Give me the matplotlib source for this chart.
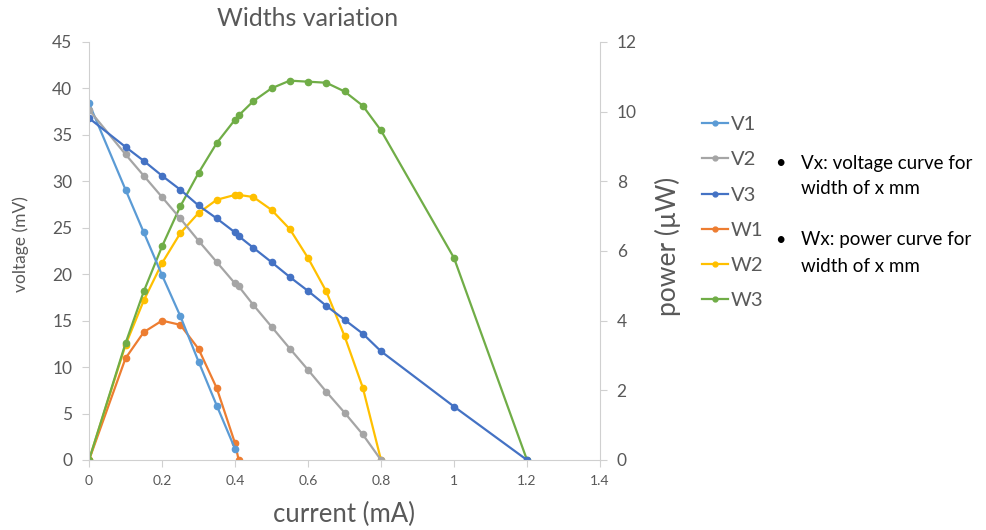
import matplotlib
matplotlib.use("Agg")
import matplotlib.pyplot as plt
from matplotlib.lines import Line2D

plt.rcParams['font.family'] = ['Lato', 'DejaVu Sans']

# ---- data ----
x_v1 = [0, 0.1, 0.15, 0.2, 0.25, 0.3, 0.35, 0.4]
v1 = [38.4, 29.1, 24.5, 19.9, 15.5, 10.6, 5.85, 1.2]

x_v2 = [0, 0.1, 0.15, 0.2, 0.25, 0.3, 0.35, 0.4, 0.41, 0.45, 0.5, 0.55, 0.6, 0.65, 0.7, 0.75, 0.8]
v2 = [37.7, 32.9, 30.6, 28.3, 26.0, 23.6, 21.3, 19.0, 18.7, 16.7, 14.35, 12.0, 9.7, 7.35, 5.1, 2.75, 0]

x_v3 = [0, 0.1, 0.15, 0.2, 0.25, 0.3, 0.35, 0.4, 0.41, 0.45, 0.5, 0.55, 0.6, 0.65, 0.7, 0.75, 0.8, 1.0, 1.2]
v3 = [36.8, 33.7, 32.2, 30.6, 29.1, 27.4, 26.0, 24.5, 24.1, 22.85, 21.3, 19.7, 18.2, 16.6, 15.1, 13.6, 11.7, 5.75, 0]

x_w1 = [0, 0.1, 0.15, 0.2, 0.25, 0.3, 0.35, 0.4, 0.41]
w1 = [0, 2.92, 3.67, 4.0, 3.88, 3.19, 2.06, 0.48, 0]

x_w2 = [0, 0.1, 0.15, 0.2, 0.25, 0.3, 0.35, 0.4, 0.41, 0.45, 0.5, 0.55, 0.6, 0.65, 0.7, 0.75, 0.8]
w2 = [0, 3.3, 4.58, 5.65, 6.51, 7.09, 7.47, 7.61, 7.61, 7.55, 7.18, 6.63, 5.8, 4.84, 3.56, 2.08, 0]

x_w3 = [0, 0.1, 0.15, 0.2, 0.25, 0.3, 0.35, 0.4, 0.41, 0.45, 0.5, 0.55, 0.6, 0.65, 0.7, 0.75, 0.8, 1.0, 1.2]
w3 = [0, 3.35, 4.84, 6.13, 7.28, 8.24, 9.1, 9.77, 9.89, 10.3, 10.67, 10.89, 10.86, 10.83, 10.58, 10.17, 9.46, 5.8, 0]

x_ticks = [0, 0.2, 0.4, 0.6, 0.8, 1, 1.2, 1.4]
x_tick_labels = ['0', '0.2', '0.4', '0.6', '0.8', '1', '1.2', '1.4']

TXT = '#595959'
AX = '#d0d0d0'
C = {'V1': '#5B9BD5', 'V2': '#A5A5A5', 'V3': '#4472C4',
     'W1': '#ED7D31', 'W2': '#FFC000', 'W3': '#70AD47'}

fig = plt.figure(figsize=(9.87, 5.30), dpi=100)
ax = fig.add_axes([0.0902, 0.1321, 0.5177, 0.7887])
ax2 = ax.twinx()

kw = dict(linewidth=1.6, marker='o', markersize=4.5)
# power curves on the right axis
ax2.plot(x_w1, w1, color=C['W1'], **kw)
ax2.plot(x_w2, w2, color=C['W2'], **kw)
ax2.plot(x_w3, w3, color=C['W3'], **kw)
ax.plot(x_v1, v1, color=C['V1'], **kw)
ax.plot(x_v2, v2, color=C['V2'], **kw)
ax.plot(x_v3, v3, color=C['V3'], **kw)
ax.set_zorder(ax2.get_zorder() + 1)
ax.patch.set_visible(False)

ax.set_xlim(0, 1.4)
ax.set_ylim(0, 45)
ax2.set_ylim(0, 12)
ax.set_xticks(x_ticks)
ax.set_xticklabels(x_tick_labels)
ax.set_yticks(range(0, 46, 5))
ax2.set_yticks(range(0, 13, 2))

for a in (ax, ax2):
    for s in a.spines.values():
        s.set_visible(False)
ax.spines['left'].set_visible(True)
ax.spines['left'].set_color(AX)
ax.spines['bottom'].set_visible(True)
ax.spines['bottom'].set_color(AX)
ax2.spines['right'].set_visible(True)
ax2.spines['right'].set_color(AX)

ax.tick_params(axis='y', colors=AX, labelcolor=TXT, labelsize=12.5, length=5, pad=7)
ax.tick_params(axis='x', colors=AX, labelcolor=TXT, labelsize=10, length=5, pad=6)
ax2.tick_params(axis='y', colors=AX, labelcolor=TXT, labelsize=12.5, length=5, pad=7)

fig.text(308 / 987, 1 - 18 / 530, 'Widths variation', color=TXT, fontsize=18,
         ha='center', va='center')
ax.set_xlabel('current (mA)', color=TXT, fontsize=18.5)
ax.xaxis.set_label_coords(0.499, -0.10)
ax.set_ylabel('voltage (mV)', color=TXT, fontsize=12.5)
ax.yaxis.set_label_coords(-0.118, 0.517)
ax2.set_ylabel('power (µW)', color=TXT, fontsize=19)
ax2.yaxis.set_label_coords(1.108, 0.51)

handles = [Line2D([], [], color=C[k], linewidth=1.6, marker='o', markersize=3.5) for k in C]
fig.legend(handles, list(C.keys()), loc='upper left', bbox_to_anchor=(0.701, 0.8),
           frameon=False, fontsize=14.5, handlelength=1.3, handletextpad=0.15,
           labelspacing=0.9, labelcolor=TXT, borderpad=0)

fig.text(780 / 987, 1 - 163 / 530, '•', fontsize=13, color='black', va='center', ha='center')
fig.text(801 / 987, 1 - 163 / 530, 'Vx: voltage curve for', fontsize=13.5, color='black', va='center')
fig.text(801 / 987, 1 - 189 / 530, 'width of x mm', fontsize=13.5, color='black', va='center')
fig.text(780 / 987, 1 - 240 / 530, '•', fontsize=13, color='black', va='center', ha='center')
fig.text(801 / 987, 1 - 240 / 530, 'Wx: power curve for', fontsize=13.5, color='black', va='center')
fig.text(801 / 987, 1 - 266 / 530, 'width of x mm', fontsize=13.5, color='black', va='center')

fig.savefig('out.png', dpi=100)
